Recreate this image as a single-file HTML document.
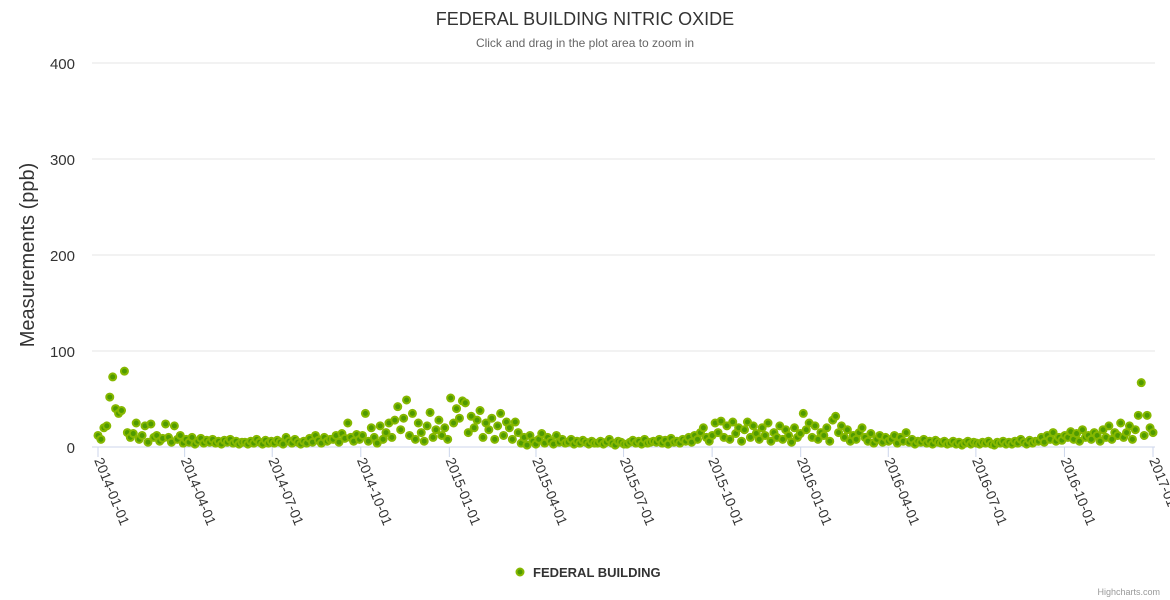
<!DOCTYPE html>
<html><head><meta charset="utf-8"><style>
body{margin:0;background:#fff;font-family:"Liberation Sans",sans-serif}
svg{display:block}
</style></head><body>
<svg id="chart" width="1170" height="600" xmlns="http://www.w3.org/2000/svg" font-family="Liberation Sans, sans-serif">
<text x="585" y="25" text-anchor="middle" font-size="18" fill="#333">FEDERAL BUILDING NITRIC OXIDE</text>
<text x="585" y="47" text-anchor="middle" font-size="12" fill="#666">Click and drag in the plot area to zoom in</text>
<text transform="translate(34,255) rotate(-90)" text-anchor="middle" font-size="20" fill="#333">Measurements (ppb)</text>
<g id="grid"></g><g id="xaxis"></g><g id="points"></g>
<g>
<circle cx="520" cy="572" r="3.5" fill="#4f9a00" stroke="#86b800" stroke-width="2"/>
<text x="533" y="577" font-size="13" font-weight="bold" fill="#333">FEDERAL BUILDING</text>
</g>
<text x="1160" y="595" text-anchor="end" font-size="9" fill="#999">Highcharts.com</text>
</svg>
<script>
const yTicks=[0,100,200,300,400];
const xTickLabels=["2014-01-01","2014-04-01","2014-07-01","2014-10-01","2015-01-01","2015-04-01","2015-07-01","2015-10-01","2016-01-01","2016-04-01","2016-07-01","2016-10-01","2017-01-01"];
const xTickDays=[0,90,181,273,365,455,546,638,730,821,912,1004,1096];
const values=[
12,8,20,22,52,73,40,35,38,79,
15,10,14,25,8,12,22,5,24,10,
12,6,9,24,10,5,22,8,12,4,
8,5,10,3,6,9,4,7,5,8,
4,6,3,7,5,8,4,6,3,5,
5,3,6,4,8,5,3,7,4,6,
4,7,5,3,10,6,4,8,5,3,
6,4,9,5,12,7,4,10,6,8,
8,12,5,14,9,25,10,6,13,8,
12,35,6,20,10,4,22,8,15,25,
10,28,42,18,30,49,12,35,8,25,
15,6,22,36,10,18,28,12,20,8,
51,25,40,30,48,46,15,32,20,28,
38,10,25,18,30,8,22,35,12,26,
20,8,26,15,4,10,2,12,6,3,
8,14,4,10,6,3,12,5,8,4,
5,8,3,6,4,7,5,3,6,4,
4,6,3,5,8,4,2,6,5,3,
3,5,7,4,6,3,8,4,5,6,
5,8,4,7,3,9,5,6,4,8,
6,10,5,12,8,15,20,10,6,12,
25,15,27,10,22,8,26,14,20,6,
18,26,10,22,14,8,20,12,25,6,
15,10,22,8,18,12,5,20,10,14,
35,18,25,10,22,8,15,12,20,6,
28,32,15,22,10,18,6,12,8,15,
20,10,6,14,4,8,12,5,10,6,
8,12,4,10,6,15,5,8,3,6,
5,8,4,6,3,7,5,4,6,3,
4,6,3,5,2,4,6,3,5,4,
3,5,4,6,3,2,5,4,6,3,
5,3,6,4,8,5,3,7,4,6,
6,10,5,12,8,15,6,10,7,12,
10,16,8,14,6,18,10,12,8,15,
12,6,18,10,22,8,15,12,25,10,
15,22,8,18,33,67,12,33,20,15];
const NS="http://www.w3.org/2000/svg";
const X0=98,X1=1153,Y0=447,Y1=63;
function xs(d){return X0+(d/1096)*(X1-X0);}
function ys(v){return Y0-(v/400)*(Y0-Y1);}
function mk(t,a){const e=document.createElementNS(NS,t);for(const k in a)e.setAttribute(k,a[k]);return e;}
const grid=document.getElementById('grid');
yTicks.forEach(v=>{
 const l=mk('line',{x1:92,x2:1155,y1:ys(v),y2:ys(v),stroke:v===0?'#ccd6eb':'#e6e6e6','stroke-width':1});
 
 
 grid.appendChild(l);
 const t=mk('text',{x:75,y:ys(v)+6,'text-anchor':'end','font-size':15,fill:'#333'});
 t.textContent=v;
 
 
 grid.appendChild(t);
});
const xa=document.getElementById('xaxis');
xTickLabels.forEach((s,i)=>{
 const x=xs(xTickDays[i]);
 const l=mk('line',{x1:x,x2:x,y1:447,y2:457,stroke:'#ccd6eb'});
 
 
 xa.appendChild(l);
 const t=mk('text',{transform:`translate(${x-4},${460}) rotate(68)`,'font-size':14,fill:'#333'});
 t.textContent=s;
 
 
 xa.appendChild(t);
});
const pg=document.getElementById('points');
const n=values.length;
values.forEach((v,i)=>{
 const c=mk('circle',{cx:xs(i*1096/(n-1)),cy:ys(v),r:3.5,fill:'#4f9a00',stroke:'#86b800','stroke-width':2});
 
 
 pg.appendChild(c);
});
</script>
</body></html>
